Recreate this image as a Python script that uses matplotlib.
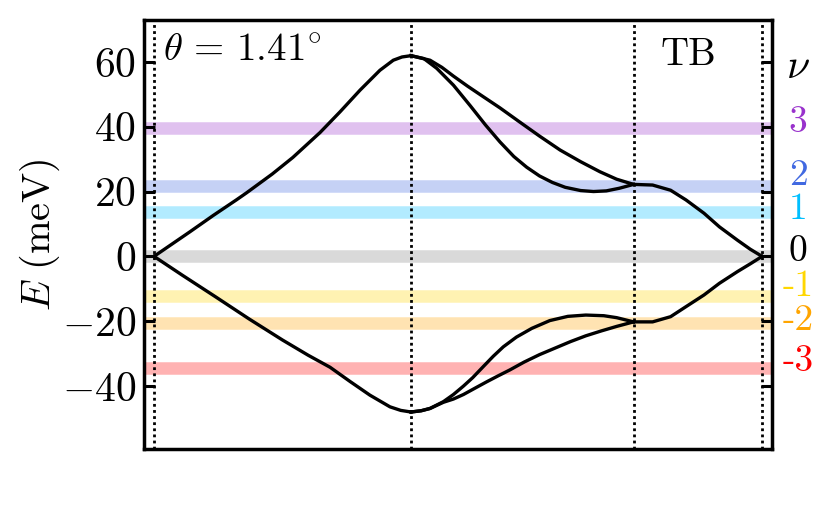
import numpy as np
import matplotlib
matplotlib.use("Agg")
import matplotlib.pyplot as plt
import matplotlib.transforms as mtransforms

plt.rcParams["mathtext.fontset"] = "cm"
plt.rcParams["font.family"] = "serif"
plt.rcParams["font.serif"] = ["cmr10", "DejaVu Serif"]
plt.rcParams["axes.formatter.use_mathtext"] = True

# high-symmetry points along the path K - Gamma - M - K'
k_nodes = [0.0, 1.0, 1.866, 2.366]

# K -> Gamma (two-fold degenerate)
k_kg_up = [0.0, 0.14, 0.23, 0.32, 0.36, 0.46, 0.54, 0.646, 0.724, 0.802, 0.879, 0.931, 0.965, 1.0]
e_kg_up = [0.0, 7.6, 12.6, 17.4, 19.6, 25.4, 30.5, 38.2, 44.6, 51.3, 57.4, 60.5, 61.5, 61.9]
k_kg_dn = [0.0, 0.11, 0.24, 0.37, 0.50, 0.60, 0.685, 0.763, 0.84, 0.918, 0.96, 1.0]
e_kg_dn = [0.0, -5.8, -12.5, -19.3, -25.8, -30.5, -34.2, -38.6, -42.8, -46.4, -47.5, -48.0]

# Gamma -> M (split)
k_gm_up1 = [1.0, 1.074, 1.12, 1.165, 1.22, 1.28, 1.346, 1.42, 1.50, 1.58, 1.66, 1.735, 1.80, 1.866]
e_gm_up1 = [61.9, 60.5, 58.3, 55.6, 52.5, 49.3, 45.8, 41.6, 37.1, 32.8, 29.2, 26.1, 23.8, 22.2]
k_gm_up2 = [1.0, 1.05, 1.10, 1.165, 1.23, 1.29, 1.346, 1.40, 1.45, 1.50, 1.55, 1.60, 1.66, 1.71, 1.76, 1.81, 1.866]
e_gm_up2 = [61.9, 61.0, 58.0, 52.8, 46.5, 40.5, 35.3, 30.8, 27.5, 24.8, 22.8, 21.3, 20.3, 20.0, 20.2, 21.0, 22.2]
k_gm_dn1 = [1.0, 1.04, 1.074, 1.126, 1.165, 1.204, 1.24, 1.281, 1.32, 1.359, 1.41, 1.47, 1.54, 1.61, 1.68, 1.75, 1.80, 1.866]
e_gm_dn1 = [-48.0, -47.6, -46.9, -44.8, -42.6, -40.0, -37.4, -34.0, -30.8, -27.9, -24.9, -22.2, -19.8, -18.5, -18.1, -18.3, -18.9, -20.2]
k_gm_dn2 = [1.0, 1.04, 1.074, 1.126, 1.165, 1.204, 1.25, 1.294, 1.34, 1.385, 1.44, 1.50, 1.56, 1.62, 1.68, 1.74, 1.80, 1.866]
e_gm_dn2 = [-48.0, -47.6, -46.9, -45.0, -44.0, -42.6, -40.6, -38.7, -36.8, -35.0, -32.6, -30.3, -28.3, -26.3, -24.5, -23.0, -21.6, -20.2]

# M -> K' (two-fold degenerate)
k_mk = [1.866, 1.94, 2.01, 2.07, 2.14, 2.20, 2.27, 2.32, 2.366]
e_mk_up = [22.2, 22.0, 20.4, 17.4, 13.3, 9.1, 5.0, 2.2, 0.0]
e_mk_dn = [-20.2, -20.2, -18.6, -15.5, -11.9, -8.3, -4.7, -2.3, 0.0]

# filling levels
nu_labels = ["3", "2", "1", "0", "-1", "-2", "-3"]
nu_energy = [39.7, 21.7, 13.6, 0.0, -12.3, -20.4, -34.5]
nu_label_y = [41.3, 24.9, 14.4, 1.5, -9.2, -19.8, -32.3]
nu_colors = ["darkorchid", "royalblue", "deepskyblue", "black", "gold", "orange", "red"]
band_alpha = [0.3, 0.3, 0.3, 0.15, 0.3, 0.3, 0.3]

yticks = [-40, -20, 0, 20, 40, 60]
ytick_labels = [r"$-40$", r"$-20$", r"$0$", r"$20$", r"$40$", r"$60$"]

fig = plt.figure(figsize=(8.3, 5.13), dpi=100)
ax = fig.add_axes([0.1739, 0.1248, 0.7559, 0.8362])

for e, c, a in zip(nu_energy, nu_colors, band_alpha):
    ax.axhline(e, color=c, alpha=a, lw=9, zorder=1)

for k in k_nodes:
    ax.axvline(k, color="black", ls=(0, (1, 1.2)), lw=2.0, zorder=2)

segments = [
    (k_kg_up, e_kg_up), (k_kg_dn, e_kg_dn),
    (k_gm_up1, e_gm_up1), (k_gm_up2, e_gm_up2),
    (k_gm_dn1, e_gm_dn1), (k_gm_dn2, e_gm_dn2),
    (k_mk, e_mk_up), (k_mk, e_mk_dn),
]
for kk, ee in segments:
    ax.plot(kk, ee, color="black", lw=2.4, solid_joinstyle="round", zorder=3)

ax.set_xlim(-0.0377, 2.4035)
ax.set_ylim(-59.4, 72.9)
ax.set_xticks([])
ax.set_yticks(yticks)
ax.set_yticklabels(ytick_labels, fontsize=30)
ax.tick_params(axis="y", direction="in", length=8, width=2.2, right=True, pad=6)
for sp in ax.spines.values():
    sp.set_linewidth(2.5)

ax.set_ylabel(r"$E\ (\mathrm{meV})$", fontsize=29)
ax.yaxis.set_label_coords(-0.131, 0.5)

ax.text(0.03, 0.925, r"$\theta\,=\,1.41^{\circ}$", transform=ax.transAxes,
        fontsize=28, ha="left", va="center")
ax.text(0.8666, 0.918, "TB", transform=ax.transAxes, fontsize=28,
        ha="center", va="center", family="cmr10")

trans = mtransforms.blended_transform_factory(ax.transAxes, ax.transData)
ax.text(1.042, 58.4, r"$\nu$", transform=trans, fontsize=30, ha="center", va="center")
for lab, y, c in zip(nu_labels, nu_label_y, nu_colors):
    ax.text(1.042, y, lab, transform=trans, fontsize=27, color=c,
            ha="center", va="center", family="cmr10")

fig.savefig("out.png", dpi=100)
